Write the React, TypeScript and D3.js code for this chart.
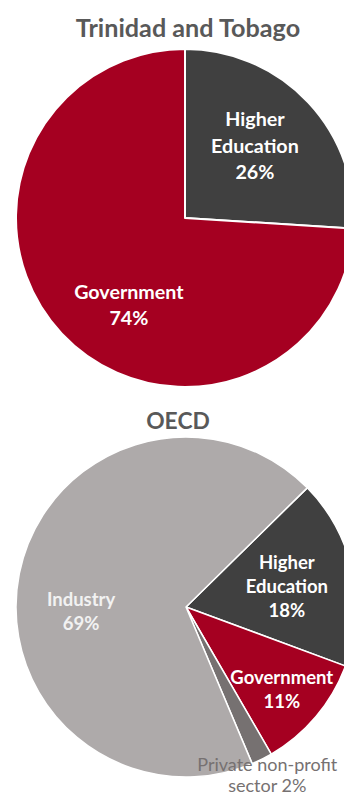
import React from "react";
import * as d3 from "d3";

// ---- Data ----
const ttCategories = ["Higher Education", "Government"];
const ttValues = [26, 74];
const ttLabelLines = [["Higher", "Education", "26%"], ["Government", "74%"]];

const oecdCategories = ["Higher Education", "Government", "Private non-profit sector", "Industry"];
const oecdValues = [18, 11, 2, 69];
const oecdLabelLines = [
  ["Higher", "Education", "18%"],
  ["Government", "11%"],
  ["Private non-profit", "sector 2%"],
  ["Industry", "69%"],
];

// ---- Styling / layout ----
const W = 344;
const H = 797;
const FONT = "Lato, 'Open Sans', sans-serif";
const TITLE_COLOR = "#595959";

const colorTT: Record<string, string> = {
  "Higher Education": "#404040",
  Government: "#A50021",
};
const colorOECD: Record<string, string> = {
  "Higher Education": "#404040",
  Government: "#A50021",
  "Private non-profit sector": "#767171",
  Industry: "#AEAAAA",
};

type LabelCfg = { r: number; shift: number; size: number; lh: number; color: string; weight: number };

const ttLabelCfg: LabelCfg[] = [
  { r: 101, shift: -3, size: 19.7, lh: 26.5, color: "#FFFFFF", weight: 700 },
  { r: 103, shift: -13.8, size: 19.7, lh: 26, color: "#FFFFFF", weight: 700 },
];
const oecdLabelCfg: LabelCfg[] = [
  { r: 103, shift: 0.4, size: 18.5, lh: 24, color: "#FFFFFF", weight: 700 },
  { r: 126, shift: 0.4, size: 18.5, lh: 24, color: "#FFFFFF", weight: 700 },
  { r: 186, shift: 0.6, size: 18, lh: 21, color: "#767171", weight: 400 },
  { r: 105, shift: -13.5, size: 18.5, lh: 24, color: "#F2F2F2", weight: 700 },
];

const deg = Math.PI / 180;

function Pie(props: {
  cx: number;
  cy: number;
  radius: number;
  categories: string[];
  values: number[];
  lines: string[][];
  cfg: LabelCfg[];
  colors: Record<string, string>;
  startAngle: number;
  stroke: number;
}) {
  const { cx, cy, radius, categories, values, lines, cfg, colors, startAngle, stroke } = props;
  const pie = d3
    .pie<number>()
    .sort(null)
    .value((d) => d)
    .startAngle(startAngle)
    .endAngle(startAngle + 2 * Math.PI);
  const arcs = pie(values);
  const arc = d3.arc<d3.PieArcDatum<number>>().innerRadius(0).outerRadius(radius);
  return (
    <g transform={`translate(${cx},${cy})`}>
      {arcs.map((a, i) => (
        <path
          key={"s" + i}
          d={arc(a) || ""}
          fill={colors[categories[i]]}
          stroke="#FFFFFF"
          strokeWidth={stroke}
          strokeLinejoin="round"
        />
      ))}
      {arcs.map((a, i) => {
        const c = cfg[i];
        const mid = (a.startAngle + a.endAngle) / 2 + c.shift * deg;
        const [x, y] = d3.pointRadial(mid, c.r);
        const ls = lines[i];
        const y0 = y - ((ls.length - 1) * c.lh) / 2;
        return (
          <text
            key={"t" + i}
            x={x}
            textAnchor="middle"
            fontFamily={FONT}
            fontSize={c.size}
            fontWeight={c.weight}
            fill={c.color}
          >
            {ls.map((l, j) => (
              <tspan key={j} x={x} y={y0 + j * c.lh} dominantBaseline="central">
                {l}
              </tspan>
            ))}
          </text>
        );
      })}
    </g>
  );
}

export default function App() {
  return (
    <svg
      width={W}
      height={H}
      viewBox={`0 0 ${W} ${H}`}
      style={{ position: "absolute", left: 0, top: 0, background: "#FFFFFF" }}
    >
      <rect width={W} height={H} fill="#FFFFFF" />
      <text
        x={188}
        y={27}
        textAnchor="middle"
        dominantBaseline="central"
        fontFamily={FONT}
        fontSize={25.2}
        fontWeight={700}
        fill={TITLE_COLOR}
      >
        Trinidad and Tobago
      </text>
      <Pie
        cx={185}
        cy={218}
        radius={169}
        categories={ttCategories}
        values={ttValues}
        lines={ttLabelLines}
        cfg={ttLabelCfg}
        colors={colorTT}
        startAngle={0}
        stroke={2}
      />
      <text
        x={178}
        y={420}
        textAnchor="middle"
        dominantBaseline="central"
        fontFamily={FONT}
        fontSize={22.8}
        fontWeight={700}
        fill={TITLE_COLOR}
      >
        OECD
      </text>
      <Pie
        cx={186}
        cy={607}
        radius={170}
        categories={oecdCategories}
        values={oecdValues}
        lines={oecdLabelLines}
        cfg={oecdLabelCfg}
        colors={colorOECD}
        startAngle={45.5 * deg}
        stroke={1.5}
      />
    </svg>
  );
}
